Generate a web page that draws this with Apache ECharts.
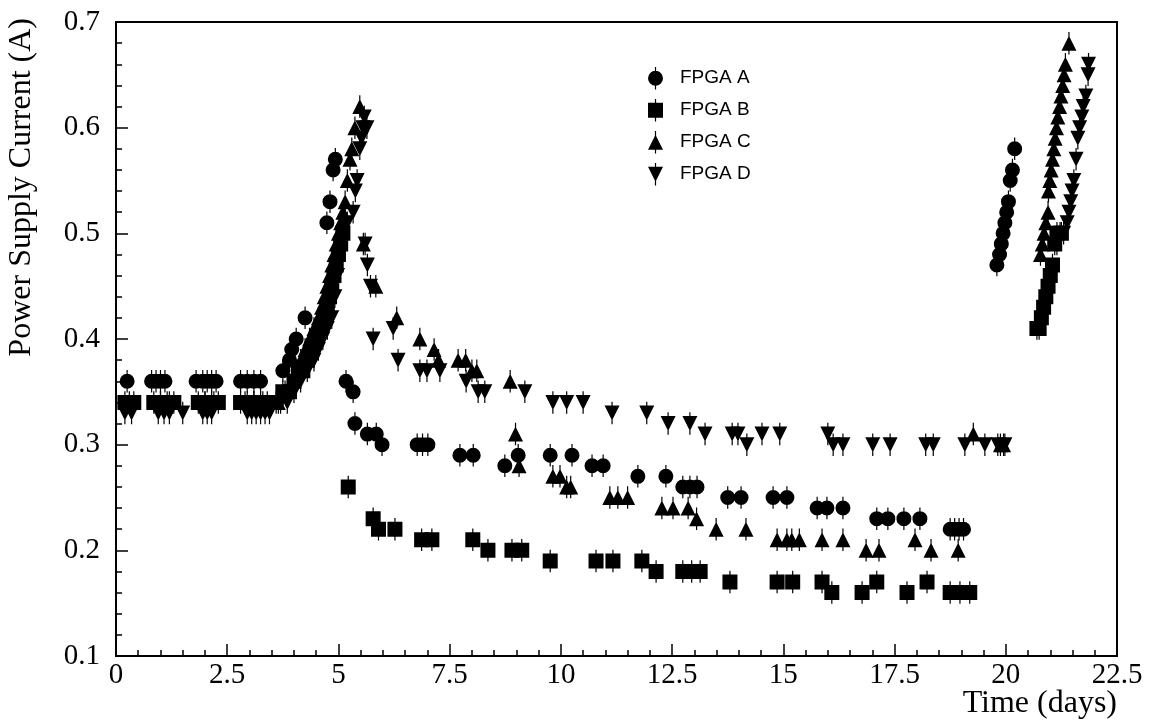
<!DOCTYPE html>
<html>
<head>
<meta charset="utf-8">
<title>FPGA power supply current</title>
<script src="https://cdn.jsdelivr.net/npm/echarts@6/dist/echarts.min.js"></script>
<style>
    html, body { margin: 0; padding: 0; background: #ffffff; }
    #main { width: 1153px; height: 724px; }
</style>
</head>
<body>
<div id="main"></div>
<script>
// FPGA A (circles)
var aTime = [0.25, 0.8, 0.9, 1.0, 1.1, 1.8, 1.95, 2.05, 2.15, 2.25, 2.8, 2.95, 3.1, 3.25,
    3.75, 3.9, 3.95, 4.05, 4.25, 4.74, 4.81, 4.88, 4.93,
    5.17, 5.33, 5.37, 5.65, 5.85, 5.98, 6.77, 6.89, 7.01,
    7.73, 8.03, 8.74, 9.04, 9.76, 10.25, 10.7, 10.95, 11.73, 12.36,
    12.74, 12.9, 13.06, 13.75, 14.05, 14.77, 15.08, 15.76, 15.98, 16.34,
    17.1, 17.35, 17.71, 18.07, 18.75, 18.85, 18.95, 19.05,
    19.8, 19.86, 19.9, 19.94, 19.98, 20.02, 20.06, 20.1, 20.15, 20.2];
var aCurrent = [0.36, 0.36, 0.36, 0.36, 0.36, 0.36, 0.36, 0.36, 0.36, 0.36, 0.36, 0.36, 0.36, 0.36,
    0.37, 0.38, 0.39, 0.40, 0.42, 0.51, 0.53, 0.56, 0.57,
    0.36, 0.35, 0.32, 0.31, 0.31, 0.30, 0.30, 0.30, 0.30,
    0.29, 0.29, 0.28, 0.29, 0.29, 0.29, 0.28, 0.28, 0.27, 0.27,
    0.26, 0.26, 0.26, 0.25, 0.25, 0.25, 0.25, 0.24, 0.24, 0.24,
    0.23, 0.23, 0.23, 0.23, 0.22, 0.22, 0.22, 0.22,
    0.47, 0.48, 0.49, 0.50, 0.51, 0.52, 0.53, 0.55, 0.56, 0.58];

// FPGA B (squares)
var bTime = [0.2, 0.4, 0.85, 1.0, 1.15, 1.3, 1.85, 2.0, 2.15, 2.3, 2.8, 2.95, 3.1, 3.25, 3.4,
    3.6, 3.75, 3.9, 4.0, 4.1, 4.2, 4.3, 4.4, 4.5, 4.6, 4.7, 4.75, 4.8, 4.85, 4.9, 4.95, 5.0, 5.05, 5.1,
    5.22, 5.78, 5.9, 6.27, 6.87, 7.1, 8.02, 8.36, 8.9, 9.12,
    9.76, 10.79, 11.17, 11.82, 12.14, 12.74, 12.94, 13.13, 13.8, 14.86,
    15.21, 15.87, 16.09, 16.77, 17.1, 17.78, 18.23, 18.75, 18.97, 19.19,
    20.7, 20.75, 20.8, 20.85, 20.9, 20.95, 21.0, 21.05, 21.1, 21.15, 21.25];
var bCurrent = [0.34, 0.34, 0.34, 0.34, 0.34, 0.34, 0.34, 0.34, 0.34, 0.34, 0.34, 0.34, 0.34, 0.34, 0.34,
    0.34, 0.35, 0.35, 0.36, 0.37, 0.37, 0.38, 0.39, 0.40, 0.41, 0.42, 0.43, 0.44, 0.45, 0.46, 0.47, 0.48, 0.49, 0.50,
    0.26, 0.23, 0.22, 0.22, 0.21, 0.21, 0.21, 0.20, 0.20, 0.20,
    0.19, 0.19, 0.19, 0.19, 0.18, 0.18, 0.18, 0.18, 0.17, 0.17,
    0.17, 0.17, 0.16, 0.16, 0.17, 0.16, 0.17, 0.16, 0.16, 0.16,
    0.41, 0.41, 0.42, 0.43, 0.44, 0.45, 0.46, 0.47, 0.49, 0.50, 0.50];

// FPGA C (triangles up)
var cTime = [0.3, 1.0, 1.2, 2.0, 2.2, 2.9, 3.1, 3.3,
    3.65, 3.8, 3.95, 4.05, 4.15, 4.25, 4.35, 4.45, 4.55, 4.62, 4.68, 4.74, 4.8,
    4.85, 4.9, 4.95, 5.0, 5.05, 5.1, 5.15, 5.2, 5.26, 5.3, 5.37, 5.48,
    5.56, 5.84, 6.31, 6.83, 7.15, 7.25, 7.69, 7.86, 8.0, 8.11,
    8.86, 8.98, 9.06, 9.82, 9.98, 10.13, 10.22, 11.1, 11.28, 11.5,
    12.27, 12.52, 12.86, 13.05, 13.49, 14.16, 14.86, 15.08, 15.19, 15.36,
    15.87, 16.34, 16.86, 17.15, 17.96, 18.32, 18.93, 19.27, 19.88, 19.95,
    20.78, 20.82, 20.86, 20.9, 20.95, 20.96, 20.99, 21.02, 21.05, 21.08,
    21.11, 21.14, 21.17, 21.21, 21.24, 21.28, 21.31, 21.34, 21.42];
var cCurrent = [0.34, 0.34, 0.34, 0.34, 0.34, 0.34, 0.34, 0.34,
    0.34, 0.35, 0.36, 0.37, 0.38, 0.39, 0.40, 0.41, 0.42, 0.43, 0.44, 0.45, 0.46,
    0.47, 0.48, 0.49, 0.50, 0.51, 0.52, 0.53, 0.55, 0.57, 0.58, 0.60, 0.62,
    0.49, 0.45, 0.42, 0.40, 0.39, 0.38, 0.38, 0.38, 0.37, 0.37,
    0.36, 0.31, 0.28, 0.27, 0.27, 0.26, 0.26, 0.25, 0.25, 0.25,
    0.24, 0.24, 0.24, 0.23, 0.22, 0.22, 0.21, 0.21, 0.21, 0.21,
    0.21, 0.21, 0.20, 0.20, 0.21, 0.20, 0.20, 0.31, 0.30, 0.30,
    0.48, 0.49, 0.50, 0.51, 0.52, 0.54, 0.55, 0.56, 0.57, 0.58,
    0.59, 0.60, 0.61, 0.62, 0.63, 0.64, 0.65, 0.66, 0.68];

// FPGA D (triangles down)
var dTime = [0.2, 0.35, 0.95, 1.08, 1.2, 1.5, 1.95, 2.05, 2.15, 2.95, 3.05, 3.15, 3.25, 3.35, 3.45,
    3.7, 3.85, 4.0, 4.15, 4.3, 4.45, 4.55, 4.65, 4.75, 4.85, 4.92, 4.98,
    5.05, 5.1, 5.2, 5.33, 5.38, 5.42, 5.48, 5.52, 5.55, 5.58, 5.64,
    5.6, 5.65, 5.72, 5.78, 6.23, 6.34, 6.83, 6.99, 7.28, 7.87,
    8.14, 8.29, 9.19, 9.82, 10.13, 10.5, 11.15, 11.93, 12.41, 12.9,
    13.24, 13.85, 13.98, 14.18, 14.52, 14.92, 16.0, 16.12, 16.34, 17.01,
    17.4, 18.2, 18.37, 19.08, 19.53, 19.82, 19.98,
    21.15, 21.22, 21.3, 21.38, 21.42, 21.46, 21.49, 21.53,
    21.58, 21.62, 21.66, 21.71, 21.74, 21.8, 21.85, 21.86];
var dCurrent = [0.33, 0.33, 0.33, 0.33, 0.33, 0.33, 0.33, 0.33, 0.33, 0.33, 0.33, 0.33, 0.33, 0.33, 0.33,
    0.34, 0.34, 0.35, 0.36, 0.37, 0.38, 0.39, 0.40, 0.41, 0.42, 0.44, 0.46,
    0.48, 0.50, 0.51, 0.52, 0.54, 0.55, 0.58, 0.59, 0.60, 0.61, 0.60,
    0.49, 0.47, 0.45, 0.40, 0.41, 0.38, 0.37, 0.37, 0.37, 0.36,
    0.35, 0.35, 0.35, 0.34, 0.34, 0.34, 0.33, 0.33, 0.32, 0.32,
    0.31, 0.31, 0.31, 0.30, 0.31, 0.31, 0.31, 0.30, 0.30, 0.30,
    0.30, 0.30, 0.30, 0.30, 0.30, 0.30, 0.30,
    0.49, 0.50, 0.50, 0.51, 0.52, 0.53, 0.54, 0.55,
    0.57, 0.59, 0.60, 0.61, 0.62, 0.63, 0.65, 0.66];

var seriesNames = ['FPGA A', 'FPGA B', 'FPGA C', 'FPGA D'];

var powerflow = function () {

    // marker shapes with the small vertical error bar drawn through them
    var errbar = 'M4.6,0 h0.8 v15 h-0.8 z ';
    var symbols = [
        'path://' + errbar + 'M0,7.5 a5,5 0 1,1 10,0 a5,5 0 1,1 -10,0 z',
        'path://' + errbar + 'M0,2.5 h10 v10 h-10 z',
        'path://' + errbar + 'M5,2.5 L10,12.5 L0,12.5 z',
        'path://' + errbar + 'M0,2.5 L10,2.5 L5,12.5 z'
    ];

    var makepairs = function (xs, ys) {
        var out = [];
        for (var i = 0; i < xs.length; i++) {
            out.push([xs[i], ys[i]]);
        }
        return out;
    }

    var setseries = function (idx, xs, ys) {
        return {
            name: seriesNames[idx],
            type: 'scatter',
            symbol: symbols[idx],
            symbolSize: [15, 22.5],
            itemStyle: { color: '#000000', opacity: 1 },
            emphasis: { disabled: true },
            data: makepairs(xs, ys)
        };
    }

    var setchart = function () {
        var dom = document.getElementById('main');
        var myChart = echarts.init(dom, null, { renderer: 'canvas' });
        var tickline = { color: '#000000', width: 1.5 };
        var option = {
            animation: false,
            backgroundColor: '#ffffff',
            grid: {
                left: 116,
                right: 36,
                top: 22,
                bottom: 68,
                show: true,
                borderColor: '#000000',
                borderWidth: 2,
                backgroundColor: 'transparent',
                outerBoundsMode: 'none'
            },
            legend: {
                orient: 'vertical',
                left: 643,
                top: 62,
                itemWidth: 15,
                itemHeight: 22.5,
                itemGap: 9.5,
                data: seriesNames,
                textStyle: {
                    fontFamily: 'Liberation Sans',
                    fontSize: 19,
                    color: '#000000',
                    padding: [0, 0, 0, 12]
                }
            },
            xAxis: {
                type: 'value',
                min: 0,
                max: 22.5,
                interval: 2.5,
                name: 'Time (days)',
                nameLocation: 'end',
                nameGap: 0,
                nameMoveOverlap: false,
                nameTextStyle: {
                    fontFamily: 'Liberation Serif',
                    fontSize: 32,
                    color: '#000000',
                    align: 'right',
                    verticalAlign: 'top',
                    padding: [32, 0, 0, 0]
                },
                axisLine: { show: true, onZero: false, lineStyle: { color: '#000000', width: 2 } },
                axisTick: { show: true, inside: true, length: 12, lineStyle: tickline },
                minorTick: { show: true, splitNumber: 5, length: 6, lineStyle: tickline },
                splitLine: { show: false },
                axisLabel: {
                    color: '#000000',
                    fontFamily: 'Liberation Serif',
                    fontSize: 29,
                    margin: 5
                }
            },
            yAxis: {
                type: 'value',
                min: 0.1,
                max: 0.7,
                interval: 0.1,
                name: 'Power Supply Current (A)',
                nameLocation: 'end',
                nameRotate: 90,
                nameGap: 4,
                nameMoveOverlap: false,
                nameTextStyle: {
                    fontFamily: 'Liberation Serif',
                    fontSize: 32,
                    color: '#000000',
                    align: 'right',
                    verticalAlign: 'bottom',
                    padding: [0, 0, 78, 0]
                },
                axisLine: { show: true, onZero: false, lineStyle: { color: '#000000', width: 2 } },
                axisTick: { show: true, inside: true, length: 12, lineStyle: tickline },
                minorTick: { show: true, splitNumber: 5, length: 6, lineStyle: tickline },
                splitLine: { show: false },
                axisLabel: {
                    color: '#000000',
                    fontFamily: 'Liberation Serif',
                    fontSize: 29,
                    margin: 16,
                    formatter: function (v) { return v.toFixed(1); }
                }
            },
            series: [
                setseries(0, aTime, aCurrent),
                setseries(1, bTime, bCurrent),
                setseries(2, cTime, cCurrent),
                setseries(3, dTime, dCurrent)
            ]
        };
        myChart.setOption(option, true);
    }

    return {
        init: function () {
            setchart();
        }
    };
}();

powerflow.init();
</script>
</body>
</html>
